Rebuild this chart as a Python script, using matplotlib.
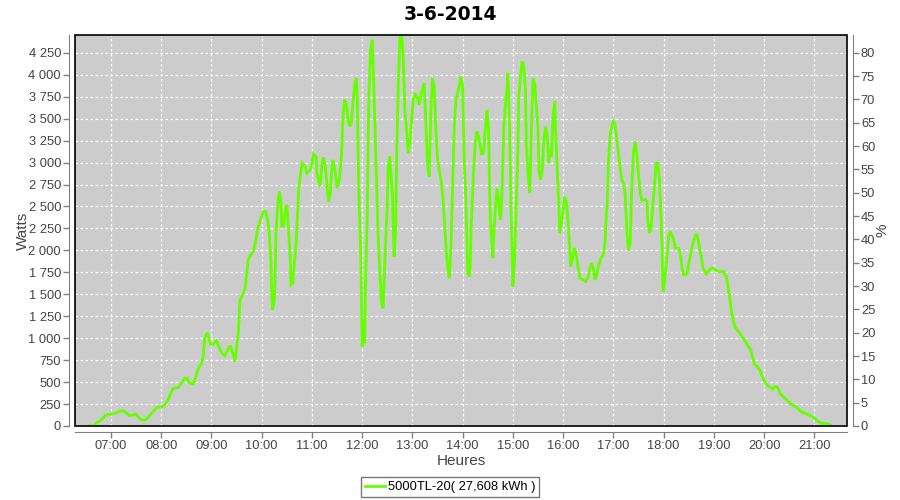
import matplotlib
matplotlib.use("Agg")
import matplotlib.pyplot as plt
from matplotlib.patches import Rectangle
from matplotlib.ticker import FuncFormatter, MultipleLocator

plt.rcParams['font.family'] = ['Liberation Sans', 'DejaVu Sans']

# donnees (heure, puissance en W)
heures = [
    "06:34", "06:40", "06:43", "06:48", "06:54", "07:00", "07:05", "07:11", "07:15", "07:19",
    "07:22", "07:26", "07:30", "07:34", "07:37", "07:41", "07:45", "07:50", "07:55", "08:01",
    "08:04", "08:08", "08:11", "08:14", "08:20", "08:24", "08:28", "08:31", "08:33", "08:38",
    "08:40", "08:44", "08:48", "08:50", "08:52", "08:55", "08:59", "09:02", "09:06", "09:09",
    "09:12", "09:16", "09:21", "09:23", "09:26", "09:28", "09:30", "09:32", "09:34", "09:37",
    "09:40", "09:42", "09:44", "09:47", "09:50", "09:53", "09:55", "09:59", "10:02", "10:05",
    "10:07", "10:09", "10:11", "10:12", "10:13", "10:14", "10:15", "10:16", "10:17", "10:19",
    "10:21", "10:23", "10:24", "10:26", "10:28", "10:30", "10:32", "10:34", "10:35", "10:37",
    "10:39", "10:41", "10:43", "10:44", "10:47", "10:48", "10:52", "10:54", "10:58", "11:00",
    "11:02", "11:05", "11:06", "11:09", "11:10", "11:12", "11:14", "11:16", "11:18", "11:20",
    "11:22", "11:23", "11:25", "11:28", "11:30", "11:33", "11:35", "11:36", "11:37", "11:39",
    "11:41", "11:43", "11:45", "11:47", "11:49", "11:51", "11:53", "11:54", "11:55", "11:56",
    "11:58", "11:59", "12:00", "12:02", "12:03", "12:04", "12:06", "12:07", "12:08", "12:10",
    "12:12", "12:14", "12:15", "12:17", "12:19", "12:21", "12:23", "12:25", "12:26", "12:28",
    "12:30", "12:31", "12:33", "12:34", "12:36", "12:37", "12:38", "12:40", "12:41", "12:43",
    "12:45", "12:47", "12:49", "12:51", "12:53", "12:55", "12:57", "12:59", "13:01", "13:03",
    "13:06", "13:08", "13:11", "13:14", "13:16", "13:18", "13:20", "13:22", "13:24", "13:26",
    "13:28", "13:30", "13:32", "13:34", "13:36", "13:38", "13:40", "13:42", "13:44", "13:46",
    "13:48", "13:50", "13:52", "13:54", "13:56", "13:58", "14:00", "14:01", "14:02", "14:04",
    "14:05", "14:06", "14:08", "14:09", "14:10", "14:12", "14:13", "14:15", "14:17", "14:19",
    "14:21", "14:23", "14:25", "14:27", "14:29", "14:31", "14:32", "14:33", "14:35", "14:36",
    "14:37", "14:39", "14:41", "14:43", "14:45", "14:46", "14:48", "14:49", "14:51", "14:53",
    "14:54", "14:56", "14:57", "14:58", "15:00", "15:02", "15:03", "15:04", "15:06", "15:07",
    "15:09", "15:11", "15:13", "15:15", "15:16", "15:18", "15:20", "15:21", "15:22", "15:24",
    "15:26", "15:28", "15:30", "15:31", "15:33", "15:35", "15:37", "15:39", "15:41", "15:43",
    "15:44", "15:46", "15:48", "15:50", "15:51", "15:53", "15:55", "15:56", "15:58", "16:00",
    "16:02", "16:04", "16:06", "16:08", "16:09", "16:11", "16:13", "16:15", "16:17", "16:20",
    "16:24", "16:27", "16:30", "16:32", "16:34", "16:36", "16:38", "16:40", "16:42", "16:45",
    "16:48", "16:50", "16:51", "16:53", "16:54", "16:56", "16:58", "17:00", "17:02", "17:04",
    "17:06", "17:08", "17:10", "17:12", "17:14", "17:16", "17:18", "17:20", "17:22", "17:24",
    "17:26", "17:28", "17:30", "17:32", "17:34", "17:38", "17:40", "17:41", "17:43", "17:45",
    "17:47", "17:49", "17:51", "17:53", "17:55", "17:56", "17:57", "17:58", "17:59", "18:00",
    "18:02", "18:04", "18:06", "18:08", "18:12", "18:14", "18:18", "18:20", "18:22", "18:24",
    "18:28", "18:30", "18:32", "18:35", "18:38", "18:40", "18:42", "18:43", "18:45", "18:47",
    "18:51", "18:53", "18:57", "18:59", "19:03", "19:07", "19:12", "19:15", "19:17", "19:19",
    "19:21", "19:23", "19:25", "19:29", "19:33", "19:37", "19:41", "19:44", "19:46", "19:49",
    "19:52", "19:55", "19:57", "20:00", "20:03", "20:07", "20:10", "20:13", "20:16", "20:19",
    "20:23", "20:27", "20:31", "20:35", "20:39", "20:43", "20:47", "20:51", "20:55", "20:59",
    "21:03", "21:07", "21:11", "21:15", "21:19",
]
watts = [
    0, 0, 38, 68, 125, 133, 144, 171, 171, 144,
    118, 125, 133, 87, 68, 68, 106, 163, 213, 220,
    239, 296, 365, 429, 437, 486, 543, 543, 494, 479,
    524, 646, 714, 790, 999, 1063, 931, 931, 972, 904,
    835, 798, 904, 904, 809, 733, 885, 1056, 1436, 1493,
    1560, 1730, 1892, 1949, 1987, 2120, 2241, 2367, 2442, 2442,
    2348, 2196, 1854, 1500, 1322, 1380, 1417, 1700, 2196, 2499,
    2670, 2537, 2271, 2271, 2442, 2518, 2233, 1929, 1607, 1626,
    1854, 2082, 2442, 2689, 2917, 2993, 2955, 2879, 2917, 2993,
    3099, 3069, 2879, 2746, 2760, 2993, 3057, 2955, 2727, 2556,
    2651, 2841, 3031, 2879, 2708, 2822, 3050, 3259, 3524, 3715,
    3677, 3487, 3411, 3449, 3696, 3886, 3962, 3753, 3221, 2651,
    2082, 1588, 904, 1208, 942, 1626, 2385, 3183, 3753, 4285,
    4399, 3829, 3487, 2841, 2157, 1778, 1398, 1341, 1626, 2082,
    2537, 2955, 3069, 2917, 2651, 2310, 1929, 2233, 2993, 3867,
    4436, 4480, 4208, 3601, 3373, 3107, 3221, 3487, 3715, 3791,
    3734, 3658, 3800, 3905, 3449, 2993, 2841, 3601, 3962, 3867,
    3373, 3031, 2917, 2803, 2651, 2385, 2043, 1815, 1683, 2043,
    2727, 3411, 3715, 3791, 3886, 3981, 3867, 3373, 2993, 2537,
    2157, 1740, 1702, 1854, 2233, 2689, 2917, 3221, 3354, 3297,
    3183, 3088, 3126, 3373, 3601, 3373, 2765, 2347, 2082, 1911,
    2157, 2461, 2708, 2537, 2347, 2424, 2993, 3373, 3677, 3829,
    4019, 3373, 2917, 2385, 1588, 1892, 2233, 2537, 3183, 3753,
    3981, 4152, 4095, 3829, 3221, 2879, 2651, 2917, 3373, 3962,
    3905, 3638, 3373, 2917, 2803, 2917, 3259, 3411, 3297, 2993,
    3145, 3069, 3525, 3696, 3373, 2879, 2499, 2196, 2310, 2461,
    2613, 2537, 2310, 2005, 1815, 1892, 2025, 1987, 1854, 1683,
    1664, 1645, 1702, 1797, 1854, 1797, 1664, 1721, 1815, 1911,
    1949, 2082, 2310, 2613, 2993, 3297, 3411, 3468, 3430, 3259,
    3107, 2955, 2803, 2765, 2650, 2233, 2000, 2082, 2720, 3100,
    3240, 3100, 2860, 2651, 2570, 2580, 2556, 2347, 2196, 2250,
    2499, 2727, 2993, 2993, 2803, 2575, 2347, 2082, 1588, 1531,
    1740, 1929, 2157, 2214, 2120, 2025, 2025, 1950, 1797, 1721,
    1732, 1854, 1949, 2082, 2176, 2176, 2082, 2005, 1929, 1797,
    1732, 1758, 1797, 1797, 1770, 1758, 1758, 1702, 1588, 1455,
    1303, 1208, 1125, 1083, 1026, 972, 912, 866, 790, 695,
    676, 638, 581, 524, 467, 441, 422, 448, 441, 372,
    334, 296, 259, 231, 213, 175, 152, 137, 118, 99,
    61, 38, 30, 30, 11,
]
tick_labels = ["07:00", "08:00", "09:00", "10:00", "11:00", "12:00", "13:00", "14:00",
               "15:00", "16:00", "17:00", "18:00", "19:00", "20:00", "21:00"]
titre = "3-6-2014"
legende = "5000TL-20( 27,608 kWh )"


def minutes(hhmm):
    h, m = hhmm.split(":")
    return int(h) * 60 + int(m)


x = [minutes(h) for h in heures]
ticks = [minutes(t) for t in tick_labels]

gris = "#808080"
texte = "#444444"

fig = plt.figure(figsize=(9, 5), dpi=100)
ax = fig.add_axes([75 / 900, 1 - 426 / 500, 772 / 900, 391 / 500])
ax.set_facecolor("#cccccc")

ligne, = ax.plot(x, watts, color="#66ff00", lw=2, solid_joinstyle="miter")

ymax = 4453
ax.set_ylim(0, ymax)
ax.set_xlim(minutes("06:17"), minutes("21:39"))
ax.set_xticks(ticks)
ax.set_xticklabels(tick_labels)
ax.yaxis.set_major_locator(MultipleLocator(250))
ax.yaxis.set_major_formatter(FuncFormatter(lambda v, p: f"{int(v):,}".replace(",", " ")))

ax.grid(True, color="white", linestyle=(0, (2, 2)), lw=0.9)
ax.set_axisbelow(True)

# axe de droite en %
ax2 = ax.twinx()
ax2.set_ylim(0, ymax / 53.125)
ax2.yaxis.set_major_locator(MultipleLocator(5))

for a in (ax, ax2):
    for s in a.spines.values():
        s.set_visible(False)
    a.tick_params(colors=gris, labelcolor=texte, labelsize=9.3, length=4, width=1, pad=2)

ax.spines["left"].set_visible(True)
ax.spines["left"].set_position(("outward", 4))
ax.spines["left"].set_color(gris)
ax.spines["bottom"].set_visible(True)
ax.spines["bottom"].set_position(("outward", 4))
ax.spines["bottom"].set_color(gris)
ax2.spines["right"].set_visible(True)
ax2.spines["right"].set_position(("outward", 4))
ax2.spines["right"].set_color(gris)

# cadre noir autour du graphique
ax.add_patch(Rectangle((0, 0), 1, 1, transform=ax.transAxes, fill=False,
                       edgecolor="black", lw=1.2, clip_on=False, zorder=5))

ax.set_xlabel("Heures", fontsize=11, color=texte)
ax.set_ylabel("Watts", fontsize=11, color=texte)
ax2.set_ylabel("%", fontsize=11, color=texte)
ax.xaxis.set_label_coords(0.5, -(454 - 426) / 391)
ax.yaxis.set_label_coords((30 - 75) / 772, 0.5)
ax2.yaxis.set_label_coords((875.5 - 75) / 772, 0.5)

fig.text(0.5, 1 - 14 / 500, titre, ha="center", va="center", fontsize=13.5,
         fontweight="bold", family="DejaVu Sans")

leg = fig.legend([ligne], [legende], loc="center", bbox_to_anchor=(0.5, 1 - 487 / 500),
                 frameon=True, fancybox=False, fontsize=9.3, handlelength=1.6,
                 handletextpad=0.2, borderpad=0.3, borderaxespad=0)
leg.get_frame().set_edgecolor("#555555")
leg.get_frame().set_linewidth(1)

fig.savefig("out.png", dpi=100)
